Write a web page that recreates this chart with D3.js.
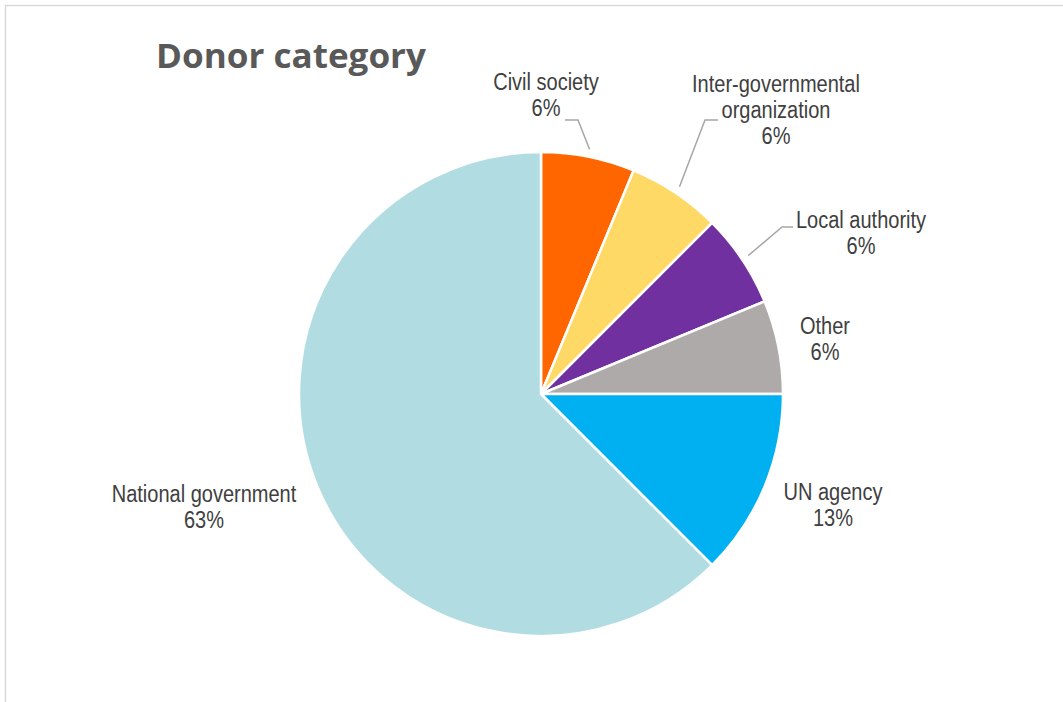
<!DOCTYPE html>
<html>
<head>
<meta charset="utf-8">
<script src="https://cdn.jsdelivr.net/npm/d3@7"></script>
<style>
  html, body { margin: 0; padding: 0; background: #fff; }
  svg { display: block; }
</style>
</head>
<body>
<svg id="chart" width="1063" height="702"></svg>
<script>
// Donor categories, clockwise from 12 o'clock
const categories = ["Civil society", "Inter-governmental organization", "Local authority", "Other", "UN agency", "National government"];
const counts = [1, 1, 1, 1, 2, 10];
const colors = ["#FF6600", "#FFD966", "#7030A0", "#AEAAAA", "#00B0F0", "#B1DDE2"];
// Label text lines per category (wrapped as displayed)
const labelLines = [["Civil society"], ["Inter-governmental", "organization"], ["Local authority"], ["Other"], ["UN agency"], ["National government"]];

const width = 1063, height = 702;
const cx = 541, cy = 394, radius = 242;

const svg = d3.select("#chart");

// Chart area frame (top and left edges)
svg.append("line").attr("x1", 5).attr("y1", 5.5).attr("x2", width).attr("y2", 5.5)
  .attr("stroke", "#D9D9D9").attr("stroke-width", 1.5);
svg.append("line").attr("x1", 5.5).attr("y1", 5).attr("x2", 5.5).attr("y2", height)
  .attr("stroke", "#D9D9D9").attr("stroke-width", 1.5);

// Title
svg.append("text")
  .attr("x", 156).attr("y", 68)
  .attr("font-family", "'Open Sans', 'DejaVu Sans', sans-serif")
  .attr("font-weight", 700)
  .attr("font-size", 34)
  .attr("fill", "#595959")
  .attr("textLength", 270)
  .attr("lengthAdjust", "spacingAndGlyphs")
  .text("Donor category");

const total = d3.sum(counts);
const data = categories.map((c, i) => ({ name: c, value: counts[i], color: colors[i], lines: labelLines[i] }));

const pie = d3.pie().value(d => d.value).sort(null);
const arc = d3.arc().innerRadius(0).outerRadius(radius);
const arcs = pie(data);

const g = svg.append("g").attr("transform", `translate(${cx},${cy})`);

g.selectAll("path.slice")
  .data(arcs)
  .join("path")
  .attr("class", "slice")
  .attr("d", arc)
  .attr("fill", d => d.data.color)
  .attr("stroke", "#fff")
  .attr("stroke-width", 2.5)
  .attr("stroke-linejoin", "round");

// Label anchors (centre x, first-line baseline) and leader lines
const labelPos = [
  { x: 546, y: 90, leader: true, elbow: [578, 120], end: [565, 120], outer: 1.03 },
  { x: 776, y: 92, leader: true, elbow: [705, 120], end: [718, 120], outer: 1.03 },
  { x: 861, y: 228, leader: true, elbow: [782, 227], end: [793, 227], outer: 1.03 },
  { x: 825, y: 334, leader: false },
  { x: 833, y: 500, leader: false },
  { x: 204, y: 502, leader: false }
];

const fmt = v => Math.round(v / total * 100) + "%";
const lineH = 26;
const narrow = 0.87; // horizontal condensing of label glyphs

arcs.forEach((a, i) => {
  const p = labelPos[i];
  const lines = a.data.lines.concat([fmt(a.data.value)]);
  const t = svg.append("text")
    .attr("transform", `translate(${p.x},${p.y}) scale(${narrow},1)`)
    .attr("text-anchor", "middle")
    .attr("font-family", "'Liberation Sans', Arial, sans-serif")
    .attr("font-size", 23)
    .attr("fill", "#404040");
  lines.forEach((ln, k) => {
    t.append("tspan").attr("x", 0).attr("y", k * lineH).text(ln);
  });
  if (p.leader) {
    const mid = (a.startAngle + a.endAngle) / 2;
    const r = radius * p.outer;
    const px = cx + Math.sin(mid) * r, py = cy - Math.cos(mid) * r;
    svg.append("polyline")
      .attr("points", [[px, py], p.elbow, p.end].map(q => q.join(",")).join(" "))
      .attr("fill", "none")
      .attr("stroke", "#A6A6A6")
      .attr("stroke-width", 1.5);
  }
});
</script>
</body>
</html>
